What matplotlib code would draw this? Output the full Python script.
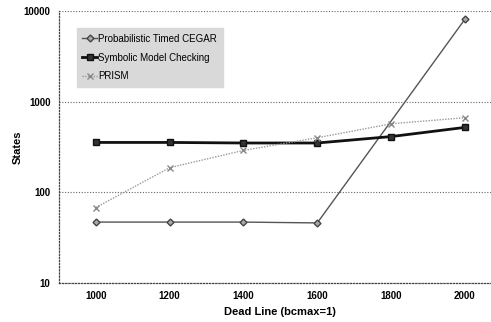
import matplotlib
matplotlib.use("Agg")
import matplotlib.pyplot as plt

deadlines = [1000, 1200, 1400, 1600, 1800, 2000]
cegar = [47, 47, 47, 46, None, 8100]
symbolic = [355, 355, 350, 350, 412, 520]
prism = [68, 187, 290, 400, 570, 665]

plt.rcParams['font.family'] = ['Liberation Sans', 'DejaVu Sans']

fig = plt.figure(figsize=(4.91, 3.22), dpi=100)
ax = fig.add_axes([0.12, 0.121, 0.902, 0.845])

# CEGAR has no point at 1800, the line runs straight from 1600 to 2000
cx = [x for x, v in zip(deadlines, cegar) if v is not None]
cy = [v for v in cegar if v is not None]
ax.plot(cx, cy, color='#555555', lw=1.0, marker='D', ms=3.5,
        mfc='#aaaaaa', mec='#444444', label='Probabilistic Timed CEGAR')
ax.plot(deadlines, symbolic, color='#111111', lw=2.0, marker='s', ms=5,
        mfc='#333333', mec='#111111', label='Symbolic Model Checking')
ax.plot(deadlines, prism, color='#999999', lw=1.0, ls=(0, (1, 1)), marker='x',
        ms=5, mec='#888888', label='PRISM')

ax.set_yscale('log')
ax.set_ylim(10, 10000)
ax.set_xlim(900, 2100)
ax.set_xticks(deadlines)
ax.set_yticks([10, 100, 1000, 10000])
ax.set_yticklabels(['10', '100', '1000', '10000'])
ax.minorticks_off()
ax.tick_params(length=0, labelsize=7, pad=6)
for lab in ax.get_xticklabels() + ax.get_yticklabels():
    lab.set_fontweight('bold')

ax.grid(axis='y', ls=(0, (1, 1.5)), color='#666666', lw=0.8)
for s in ['top', 'right']:
    ax.spines[s].set_visible(False)
for s in ['left', 'bottom']:
    ax.spines[s].set_linestyle((0, (1, 1.5)))
    ax.spines[s].set_color('#444444')
    ax.spines[s].set_linewidth(0.9)

ax.set_xlabel('Dead Line (bcmax=1)', fontsize=8, fontweight='bold', labelpad=4)
ax.set_ylabel('States', fontsize=8, fontweight='bold', labelpad=1)

leg = ax.legend(loc='upper left', bbox_to_anchor=(0.04, 0.9375), fontsize=7,
                frameon=True, fancybox=False, handlelength=1.5,
                handletextpad=0.1, labelspacing=0.9, borderpad=0.6,
                borderaxespad=0)
leg.get_frame().set_facecolor('#d9d9d9')
leg.get_frame().set_edgecolor('#d9d9d9')
leg.get_frame().set_alpha(1)

fig.savefig('out.png', dpi=100)
